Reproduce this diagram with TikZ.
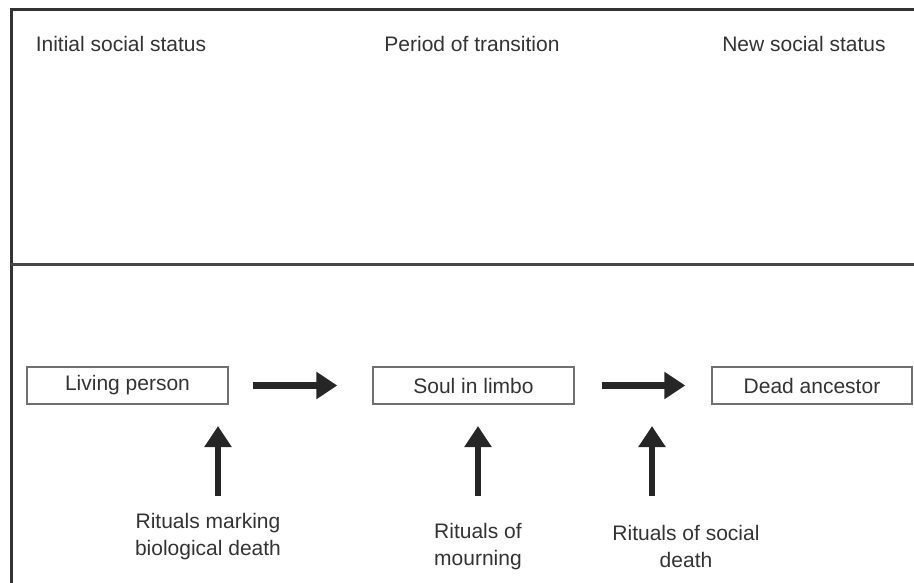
\documentclass[tikz,border=0pt]{standalone}
\usepackage{fontspec}
\setmainfont{Liberation Sans}
\usetikzlibrary{arrows.meta}
\definecolor{ink}{HTML}{333333}
\definecolor{rule}{HTML}{333333}
\definecolor{boxline}{HTML}{707070}
\begin{document}
\begin{tikzpicture}[x=1pt,y=-1pt,
  every node/.style={text=ink, font=\fontsize{21}{27}\selectfont},
  frameline/.style={draw=rule, line width=3pt},
  stagebox/.style={draw=boxline, line width=1.3pt, minimum height=37pt, inner sep=0pt},
  heading/.style={anchor=center},
  ritual/.style={align=center, inner sep=0pt},
  bigarrow/.style={draw=black!85, line width=6.5pt, -{Triangle[length=21pt,width=26pt]}},
]
\useasboundingbox (0,0) rectangle (914,583);

% outer frame and dividing rule
\draw[frameline] (11,583) -- (11,10) -- (914,10);
\draw[frameline, draw=rule!90] (11,264) -- (914,264);

% column headings
\node[heading] (h1) at (121,44) {Initial social status};
\node[heading] (h2) at (472,44) {Period of transition};
\node[heading] (h3) at (804,44) {New social status};

% stages
\node[stagebox, minimum width=201pt] (living) at (127.5,385.5) {Living person};
\node[stagebox, minimum width=201pt] (soul)   at (473.5,385.5) {Soul in limbo};
\node[stagebox, minimum width=200pt] (dead)   at (812,385.5)   {Dead ancestor};

% transitions between stages
\draw[bigarrow, shorten <=24pt, shorten >=35pt] (living.east) -- (soul.west);
\draw[bigarrow, shorten <=27pt, shorten >=26pt] (soul.east) -- (dead.west);

% rituals
\node[ritual] (r1) at (208,537) {Rituals marking\\biological death};
\node[ritual] (r2) at (478,547) {Rituals of\\mourning};
\node[ritual] (r3) at (686,546) {Rituals of social\\death};

\coordinate (t1) at (218,426);
\coordinate (t2) at (478,426);
\coordinate (t3) at (652,426);
\coordinate (b1) at (218,496);
\coordinate (b2) at (478,496);
\coordinate (b3) at (652,496);

\draw[bigarrow] (b1) -- (t1);
\draw[bigarrow] (b2) -- (t2);
\draw[bigarrow] (b3) -- (t3);
\end{tikzpicture}
\end{document}
